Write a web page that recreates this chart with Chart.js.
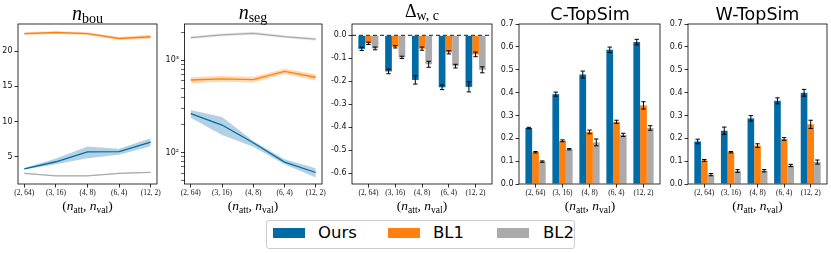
<!DOCTYPE html>
<html><head><meta charset="utf-8">
<script src="https://cdn.jsdelivr.net/npm/chart.js@4.4.0/dist/chart.umd.min.js"></script>
<style>
body{margin:0;background:#fff;width:831px;height:253px;position:relative;overflow:hidden;}
canvas{position:absolute;top:0;}
.mt{position:absolute;white-space:nowrap;transform:translateX(-50%);font-family:'Liberation Serif';font-size:20px;line-height:1;color:#000;}
.mt sub{font-size:14px;font-style:normal;vertical-align:-3.3px;line-height:1;}
.st{position:absolute;white-space:nowrap;transform:translateX(-50%);font-family:'DejaVu Sans';font-size:17.5px;line-height:1;color:#000;}
.xl{position:absolute;white-space:nowrap;transform:translateX(-50%);font-family:'Liberation Serif';font-size:13.5px;line-height:1;top:198.7px;color:#000;}
.xl sub{font-size:9.5px;vertical-align:-2.5px;line-height:1;}
#legend{position:absolute;left:266px;top:220px;width:307px;height:27px;border:1px solid #ccc;border-radius:3px;font-family:'DejaVu Sans';font-size:16.5px;line-height:1;}
#legend .sw{position:absolute;top:7px;width:32px;height:10px;}
#legend .lt{position:absolute;top:4.3px;white-space:nowrap;}
</style></head><body>
<canvas id="c1" width="173" height="204" style="left:0px;width:173px;height:204px"></canvas>
<canvas id="c2" width="184" height="204" style="left:154px;width:184px;height:204px"></canvas>
<canvas id="c3" width="182" height="204" style="left:322px;width:182px;height:204px"></canvas>
<canvas id="c4" width="183" height="204" style="left:489px;width:183px;height:204px"></canvas>
<canvas id="c5" width="173" height="204" style="left:658px;width:173px;height:204px"></canvas>

<div class="mt" style="left:87.5px;top:3.3px"><i>n</i><sub>bou</sub></div>
<div class="mt" style="left:253px;top:1.6px"><i>n</i><sub>seg</sub></div>
<div class="mt" style="left:422px;top:0px"><span style="font-size:18px">Δ</span><sub>w, c</sub></div>
<div class="st" style="left:590px;top:5.9px">C-TopSim</div>
<div class="st" style="left:757.5px;top:5.9px">W-TopSim</div>

<div class="xl" style="left:87.5px">(<i>n</i><sub>att</sub>, <i>n</i><sub>val</sub>)</div>
<div class="xl" style="left:253px">(<i>n</i><sub>att</sub>, <i>n</i><sub>val</sub>)</div>
<div class="xl" style="left:422px">(<i>n</i><sub>att</sub>, <i>n</i><sub>val</sub>)</div>
<div class="xl" style="left:590px">(<i>n</i><sub>att</sub>, <i>n</i><sub>val</sub>)</div>
<div class="xl" style="left:757.5px">(<i>n</i><sub>att</sub>, <i>n</i><sub>val</sub>)</div>

<div id="legend"></div>

<script>
// ---------- data ----------
const xLabels = ['(2, 64)', '(3, 16)', '(4, 8)', '(6, 4)', '(12, 2)'];
const seriesNames = ['Ours', 'BL1', 'BL2'];

// n_bou (mean, lower band, upper band)
const bouOurs   = [3.3, 4.3, 5.7, 5.75, 7.1];
const bouOursLo = [3.2, 3.95, 4.8, 5.3, 6.5];
const bouOursHi = [3.4, 4.75, 6.45, 6.15, 7.65];
const bouBL1    = [22.5, 22.65, 22.5, 21.8, 22.05];
const bouBL1Lo  = [22.3, 22.45, 22.3, 21.6, 21.75];
const bouBL1Hi  = [22.7, 22.85, 22.7, 22.0, 22.35];
const bouBL2    = [2.65, 2.3, 2.3, 2.65, 2.8];
const bouBL2Lo  = [2.58, 2.23, 2.23, 2.58, 2.72];
const bouBL2Hi  = [2.72, 2.37, 2.37, 2.72, 2.88];

// n_seg (log scale)
const segOurs   = [264, 199, 128, 79, 61];
const segOursLo = [239, 155, 116, 75, 54];
const segOursHi = [290, 243, 134, 85, 68];
const segBL1    = [612, 628, 617, 760, 655];
const segBL1Lo  = [565, 585, 575, 710, 605];
const segBL1Hi  = [660, 675, 665, 810, 705];
const segBL2    = [1760, 1880, 1960, 1800, 1690];
const segBL2Lo  = [1700, 1815, 1890, 1740, 1630];
const segBL2Hi  = [1820, 1945, 2030, 1860, 1750];
const segTicks  = [50, 60, 70, 80, 90, 100, 200, 300, 400, 500, 600, 700, 800, 900, 1000, 2000];

// Delta_{w,c}
const dOurs    = [-0.059, -0.157, -0.194, -0.226, -0.224];
const dOursErr = [0.007, 0.010, 0.018, 0.010, 0.022];
const dBL1     = [-0.035, -0.050, -0.058, -0.074, -0.083];
const dBL1Err  = [0.005, 0.005, 0.007, 0.007, 0.010];
const dBL2     = [-0.057, -0.096, -0.126, -0.134, -0.150];
const dBL2Err  = [0.006, 0.005, 0.013, 0.008, 0.013];
const dTicks   = [-0.6, -0.5, -0.4, -0.3, -0.2, -0.1, 0.0];

// C-TopSim
const cOurs    = [0.245, 0.393, 0.479, 0.587, 0.621];
const cOursErr = [0.003, 0.009, 0.015, 0.012, 0.012];
const cBL1     = [0.139, 0.189, 0.228, 0.272, 0.344];
const cBL1Err  = [0.003, 0.004, 0.008, 0.007, 0.016];
const cBL2     = [0.098, 0.152, 0.182, 0.215, 0.245];
const cBL2Err  = [0.003, 0.003, 0.015, 0.007, 0.010];

// W-TopSim
const wOurs    = [0.186, 0.233, 0.287, 0.364, 0.399];
const wOursErr = [0.010, 0.016, 0.012, 0.013, 0.015];
const wBL1     = [0.103, 0.139, 0.168, 0.197, 0.261];
const wBL1Err  = [0.004, 0.003, 0.008, 0.006, 0.018];
const wBL2     = [0.041, 0.057, 0.058, 0.081, 0.096];
const wBL2Err  = [0.005, 0.006, 0.005, 0.005, 0.009];
const topTicks = [0, 0.1, 0.2, 0.3, 0.4, 0.5, 0.6, 0.7];

// ---------- styles ----------
const colors = ['#006BA4', '#FF800E', '#ABABAB'];
const bandColors = ['rgba(0,107,164,0.3)', 'rgba(255,128,14,0.3)', 'rgba(171,171,171,0.3)'];
const X_IDX = [0, 1, 2, 3, 4];

function pts(arr) { return arr.map((v, i) => ({x: i, y: v})); }

const gridOpts = () => ({display: true, drawOnChartArea: false, drawTicks: true, tickLength: 3.5,
  tickColor: '#000', tickWidth: 0.8, offset: false});

function xScale(min, max) {
  return {
    type: 'linear', min, max, offset: false,
    afterBuildTicks: s => { s.ticks = X_IDX.map(v => ({value: v})); },
    afterFit: s => { s.height = 20; },
    ticks: {autoSkip: false, maxRotation: 0, minRotation: 0, padding: 1.5, color: '#111',
      font: {family: 'Liberation Serif', size: 7.5}, callback: v => xLabels[Math.round(v)]},
    grid: gridOpts(), border: {display: false}
  };
}
function yScale(w, type, min, max, tickVals, cb, gridOverride) {
  return {
    type, min, max,
    afterBuildTicks: s => { s.ticks = tickVals.map(v => ({value: v})); },
    afterFit: s => { s.width = w; },
    ticks: {autoSkip: false, padding: 2, color: '#111', font: {family: 'DejaVu Sans', size: 8}, callback: cb},
    grid: Object.assign(gridOpts(), gridOverride || {}), border: {display: false}
  };
}

const boxPlugin = {id: 'box', afterDraw(chart) {
  const {ctx, chartArea: a} = chart;
  ctx.save(); ctx.strokeStyle = '#000'; ctx.lineWidth = 0.8;
  ctx.strokeRect(a.left, a.top, a.right - a.left, a.bottom - a.top); ctx.restore();
}};
const errPlugin = {id: 'err', afterDatasetsDraw(chart) {
  const ctx = chart.ctx, ys = chart.scales.y;
  ctx.save(); ctx.strokeStyle = '#000'; ctx.lineWidth = 1;
  chart.data.datasets.forEach((ds, di) => {
    if (!ds.errors) return;
    const meta = chart.getDatasetMeta(di);
    meta.data.forEach((bar, i) => {
      const v = ds.data[i].y, e = ds.errors[i], x = bar.x;
      const y1 = ys.getPixelForValue(v - e), y2 = ys.getPixelForValue(v + e);
      ctx.beginPath();
      ctx.moveTo(x, y1); ctx.lineTo(x, y2);
      ctx.moveTo(x - 2.2, y1); ctx.lineTo(x + 2.2, y1);
      ctx.moveTo(x - 2.2, y2); ctx.lineTo(x + 2.2, y2);
      ctx.stroke();
    });
  });
  ctx.restore();
}};

function commonOpts(padR, scales) {
  return {responsive: false, animation: false, devicePixelRatio: 1,
    layout: {padding: {left: 0, right: padR, top: 24, bottom: 0}},
    plugins: {legend: {display: false}, tooltip: {enabled: false}},
    scales};
}

function lineChart(id, groups, padR, ySc) {
  const datasets = [];
  groups.forEach((g, k) => {
    datasets.push({label: seriesNames[k] + ' lo', data: pts(g.lo), borderWidth: 0, pointRadius: 0, fill: false, order: 10});
    datasets.push({label: seriesNames[k] + ' hi', data: pts(g.hi), borderWidth: 0, pointRadius: 0, fill: '-1',
      backgroundColor: bandColors[k], order: 10});
    datasets.push({label: seriesNames[k], data: pts(g.mean), borderColor: colors[k], borderWidth: 1.3,
      pointRadius: 0, fill: false, tension: 0, order: 0});
  });
  new Chart(document.getElementById(id), {type: 'line', data: {datasets},
    options: commonOpts(padR, {x: xScale(-0.2, 4.2), y: ySc}), plugins: [boxPlugin]});
}

function barChart(id, groups, errs, padR, ySc, extra) {
  const datasets = groups.map((g, k) => ({type: 'bar', label: seriesNames[k], data: pts(g), errors: errs[k],
    backgroundColor: colors[k], borderWidth: 0, categoryPercentage: 0.75, barPercentage: 1.0, order: 5}));
  if (extra) datasets.push(extra);
  new Chart(document.getElementById(id), {type: 'bar', data: {datasets},
    options: commonOpts(padR, {x: xScale(-0.6125, 4.6125), y: ySc}), plugins: [errPlugin, boxPlugin]});
}

// Panel 1: n_bou
lineChart('c1', [
  {mean: bouOurs, lo: bouOursLo, hi: bouOursHi},
  {mean: bouBL1, lo: bouBL1Lo, hi: bouBL1Hi},
  {mean: bouBL2, lo: bouBL2Lo, hi: bouBL2Hi}
], 16, yScale(18, 'linear', 1.14, 23.86, [5, 10, 15, 20], v => String(v)));

// Panel 2: n_seg (log)
lineChart('c2', [
  {mean: segOurs, lo: segOursLo, hi: segOursHi},
  {mean: segBL1, lo: segBL1Lo, hi: segBL1Hi},
  {mean: segBL2, lo: segBL2Lo, hi: segBL2Hi}
], 16, yScale(30.5, 'logarithmic', 45.8, 2470, segTicks,
  v => (v === 100 ? '10²' : v === 1000 ? '10³' : ''),
  {tickWidth: c => (c.tick && (c.tick.value === 100 || c.tick.value === 1000) ? 0.8 : 0.6)}));

// Panel 3: Delta
barChart('c3', [dOurs, dBL1, dBL2], [dOursErr, dBL1Err, dBL2Err], 12,
  yScale(30, 'linear', -0.646, 0.049, dTicks, v => v.toFixed(1)),
  {type: 'line', label: 'zero', data: [{x: -0.6125, y: 0}, {x: 4.6125, y: 0}], borderColor: '#444',
   borderWidth: 1.2, borderDash: [4, 3], pointRadius: 0, fill: false, order: 0});

// Panel 4: C-TopSim
barChart('c4', [cOurs, cBL1, cBL2], [cOursErr, cBL1Err, cBL2Err], 12,
  yScale(30, 'linear', 0, 0.7, topTicks, v => v.toFixed(1)));

// Panel 5: W-TopSim
barChart('c5', [wOurs, wBL1, wBL2], [wOursErr, wBL1Err, wBL2Err], 4,
  yScale(30, 'linear', 0, 0.7, topTicks, v => v.toFixed(1)));

// Legend
const legendPos = [[6, 51], [121, 166], [230, 276]];
const lg = document.getElementById('legend');
seriesNames.forEach((name, k) => {
  const sw = document.createElement('div');
  sw.className = 'sw'; sw.style.left = legendPos[k][0] + 'px'; sw.style.background = colors[k];
  const t = document.createElement('div');
  t.className = 'lt'; t.style.left = legendPos[k][1] + 'px'; t.textContent = name;
  lg.appendChild(sw); lg.appendChild(t);
});
</script>
</body></html>
